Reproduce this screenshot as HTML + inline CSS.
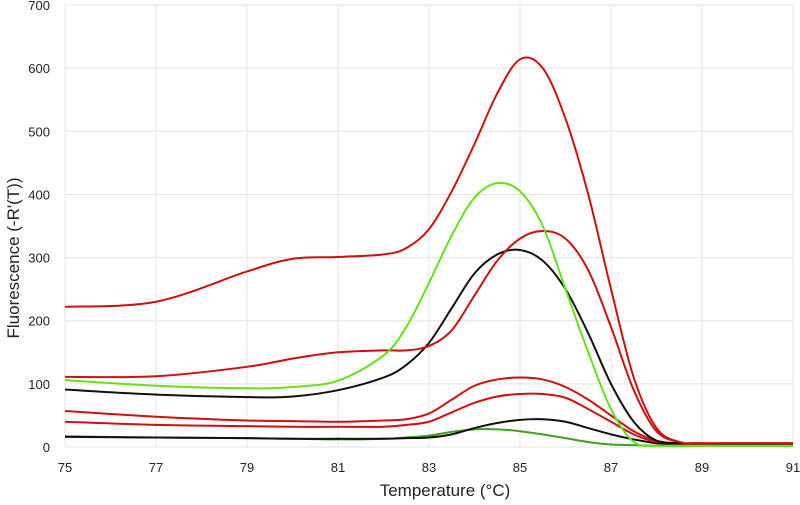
<!DOCTYPE html>
<html><head><meta charset="utf-8"><style>
body{margin:0;background:#fff;}
svg{display:block;font-family:"Liberation Sans",sans-serif;}
</style></head><body>
<svg id="chart" width="800" height="505">
<g id="grid"></g>
<g id="axes"></g>
<g id="series"></g>
<text x="445" y="496" text-anchor="middle" font-size="17" fill="#222">Temperature (°C)</text>
<text transform="translate(19,258) rotate(-90)" text-anchor="middle" font-size="17" fill="#222">Fluorescence (-R'(T))</text>
</svg>
<script>
const temps=[75,77,79,80,81,82,82.5,83,83.5,84,84.5,85,85.5,86,86.5,87,87.5,88,88.5,89,91];
const redA=[222,230,278,298,301,305,315,345,405,480,560,614,600,520,400,250,110,30,8,6,6];
const greenA=[106,97,93,95,105,145,190,260,335,395,418,405,350,250,150,60,8,2,2,2,2];
const redB=[111,112,127,140,150,153,153,160,185,240,295,330,342,330,280,190,90,25,8,6,6];
const blackA=[91,83,79,80,90,110,130,165,220,275,305,312,295,250,180,100,40,10,6,5,4];
const redC=[57,48,42,41,40,42,44,53,75,97,107,110,107,95,75,50,25,10,6,5,5];
const redD=[40,35,33,32,32,32,35,40,55,70,80,84,84,78,60,40,20,8,6,5,5];
const blackB=[16,15,14,13,13,13,14,15,20,30,38,43,44,40,30,20,12,6,5,4,4];
const greenB=[17,15,14,13,12,13,15,18,24,28,28,25,20,14,8,4,3,2,2,2,2];
const xTicks=[75,77,79,81,83,85,87,89,91];
const yTicks=[0,100,200,300,400,500,600,700];
const NS="http://www.w3.org/2000/svg";
const x=t=>65+(t-75)*45.5;
const y=v=>447-v*0.6314;
const grid=document.getElementById('grid'),axes=document.getElementById('axes'),ser=document.getElementById('series');
function mk(tag,attrs,parent){const e=document.createElementNS(NS,tag);for(const k in attrs)e.setAttribute(k,attrs[k]);parent.appendChild(e);return e;}
yTicks.forEach(v=>{
  const l=mk('line',{x1:x(75),x2:x(91),y1:y(v),y2:y(v),stroke:'#e3e3e3','stroke-width':1},grid);
  
  
  const t=mk('text',{x:50,y:y(v)+5,'text-anchor':'end','font-size':13,fill:'#222'},axes);
  t.textContent=v;
  
  
});
xTicks.forEach(v=>{
  const l=mk('line',{x1:x(v),x2:x(v),y1:y(0),y2:y(700),stroke:'#e3e3e3','stroke-width':1},grid);
  
  
  const t=mk('text',{x:x(v),y:472,'text-anchor':'middle','font-size':13,fill:'#222'},axes);
  t.textContent=v;
  
  
});
function path(vals){
  const p=temps.map((t,i)=>[x(t),y(vals[i])]);
  let d='M'+p[0][0]+','+p[0][1];
  for(let i=0;i<p.length-1;i++){
    const p0=p[i-1]||p[i],p1=p[i],p2=p[i+1],p3=p[i+2]||p2;
    const c1=[p1[0]+(p2[0]-p0[0])/6,p1[1]+(p2[1]-p0[1])/6];
    const c2=[p2[0]-(p3[0]-p1[0])/6,p2[1]-(p3[1]-p1[1])/6];
    d+=` C${c1[0]},${c1[1]} ${c2[0]},${c2[1]} ${p2[0]},${p2[1]}`;
  }
  return d;
}
const list=[[greenB,'#3f9f1f','series-dark-green'],[blackB,'#111','series-black-low'],[redD,'#cc1111','series-red-d'],[redC,'#cc1111','series-red-c'],[blackA,'#111','series-black-high'],[redB,'#cc1111','series-red-b'],[greenA,'#66e01a','series-bright-green'],[redA,'#cc1111','series-red-a']];
list.forEach(s=>{
  const e=mk('path',{d:path(s[0]),fill:'none',stroke:s[1],'stroke-width':2},ser);
  
  
});
</script>
</body></html>
